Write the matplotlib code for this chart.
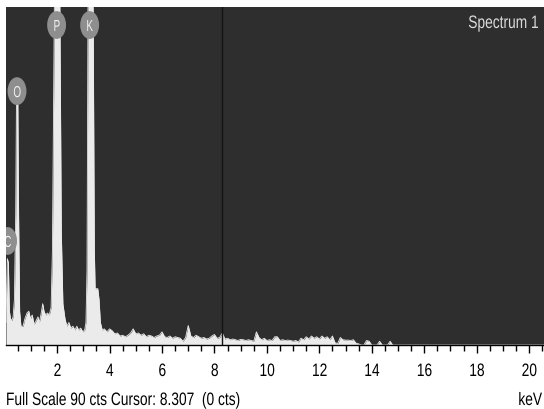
import numpy as np
import matplotlib
matplotlib.use("Agg")
import matplotlib.pyplot as plt
from matplotlib.patches import Ellipse, PathPatch
from matplotlib.ticker import MultipleLocator
from matplotlib.textpath import TextPath
from matplotlib.font_manager import FontProperties
from matplotlib.transforms import Affine2D

# spectrum, low energy part (keV, counts)
e_low = [0.05, 0.10, 0.14, 0.18, 0.22, 0.27, 0.32, 0.37, 0.42, 0.45, 0.50, 0.53, 0.57,
         0.62, 0.70, 0.77, 0.85, 0.92, 0.98, 1.05, 1.12, 1.20, 1.27, 1.32, 1.38, 1.45,
         1.50, 1.56, 1.63, 1.70, 1.77, 1.82, 1.86, 1.90, 2.10, 2.16, 2.22, 2.30, 2.37,
         2.45, 2.52, 2.60, 2.68, 2.75, 2.82, 2.90, 2.98, 3.05, 3.10, 3.14, 3.18, 3.37,
         3.42, 3.45, 3.55, 3.60, 3.65, 3.72]
c_low = [6, 23, 22, 9, 7, 6.5, 7.5, 12, 35, 66, 66, 35, 9,
         5, 5, 7, 8.5, 9, 7, 8, 5.5, 6.5, 7.5, 6, 8, 11,
         9, 8, 8.5, 8, 10, 25, 60, 95, 95, 30, 11, 7, 5,
         6, 4.5, 5, 4, 5, 4, 4.5, 3.5, 4, 6, 20, 95, 95,
         25, 15, 15, 12, 6, 4]

# background above 3.8 keV, 0.1 keV channels
e_hi_start = 3.8
c_hi = [4.3, 3.5, 4.3, 3.8, 3.0, 3.2, 2.4, 2.6, 2.2, 2.6,
        3.2, 4.3, 3.0, 3.2, 2.6, 3.0, 2.2, 2.6, 2.4, 2.0,
        2.4, 2.6, 3.5, 2.2, 2.0, 2.4, 1.8, 2.2, 2.0, 1.8,
        1.0, 2.0, 5.2, 2.4, 2.0, 2.6, 2.2, 1.8, 2.0, 1.6,
        1.8, 2.4, 2.8, 1.8, 2.0, 3.2, 1.6, 1.8, 1.4, 1.6,
        1.4, 1.2, 1.5, 1.4, 1.2, 1.4, 1.2, 1.0, 3.5, 2.0,
        1.4, 1.8, 1.2, 1.4, 1.2, 2.2, 2.2, 1.2, 1.4, 1.2,
        1.3, 1.2, 1.0, 1.2, 0.8, 1.8, 1.4, 2.2, 1.6, 2.4,
        1.8, 2.2, 1.6, 2.4, 1.8, 2.2, 1.4, 2.4, 0.6, 0.4,
        2.0, 1.4, 1.3, 1.3, 1.2, 1.4, 0.5, 0.3, 0, 0,
        1.2, 1.0, 0, 0, 0, 1.0, 0, 0, 0, 1.0,
        0, 0, 0]

# element markers: label, keV, counts
labels = ['C', 'O', 'P', 'K']
lab_e = [0.11, 0.47, 1.98, 3.24]
lab_c = [27.7, 67.6, 85.2, 85.2]

tick_vals = [2, 4, 6, 8, 10, 12, 14, 16, 18, 20]
cursor = 8.307
full_scale = 90

e_hi = [round(e_hi_start + 0.1 * i, 2) for i in range(len(c_hi))]
energy = np.array(e_low + e_hi + [20.6])
counts = np.array(c_low + c_hi + [0])

W, H = 544, 410
fig = plt.figure(figsize=(W / 100, H / 100), dpi=100)
ax = fig.add_axes([6 / W, 64 / H, 538 / W, 338 / H])
ax.set_facecolor('#2e2e2e')
ax.fill_between(energy, 0, counts, color='#ebebeb', lw=0)
ax.plot(energy, counts, color='#ebebeb', lw=0.6)

ax.axvline(cursor, color='#141414', lw=1)

ax.set_xlim(0.05, 20.57)
ax.set_ylim(0, full_scale)

ax.xaxis.set_major_locator(MultipleLocator(2))
ax.xaxis.set_minor_locator(MultipleLocator(0.5))
ax.tick_params(axis='x', which='major', length=6, width=1, direction='out', labelbottom=False)
ax.tick_params(axis='x', which='minor', length=4, width=1, direction='out')
ax.set_yticks([])
for s in ['top', 'right', 'left']:
    ax.spines[s].set_visible(False)
ax.spines['bottom'].set_linewidth(1)

# narrow text like the instrument font: squeezed glyph paths in pixel coords
fp = FontProperties(family='Liberation Sans')
def narrow_text(s, x, y, ha='left', size=18, sx=0.765, color='black', clip=None):
    tp = TextPath((0, 0), s, size=size, prop=fp)
    ext = tp.get_extents()
    w = ext.x1 * sx
    if ha == 'center':
        x = x - w / 2
    elif ha == 'right':
        x = x - w
    tr = Affine2D().scale(sx, 1).translate(x, y)
    p = PathPatch(tp, transform=tr, fc=color, ec='none', lw=0, zorder=6)
    fig.add_artist(p)
    if clip is not None:
        p.set_clip_path(clip)
    return p

# element labels as grey ovals
for lab, x, y in zip(labels, lab_e, lab_c):
    ax.add_patch(Ellipse((x, y), 0.72, 7.4, fc='#8e8e8e', ec='none', zorder=5))
    px, py = ax.transData.transform((x, y))
    narrow_text(lab, px, py - 6, ha='center', size=16, sx=0.62, color='#f2f2f2', clip=ax.patch)

for v in tick_vals:
    px = ax.transData.transform((v, 0))[0]
    narrow_text(str(v), px, H - 377, ha='center')

narrow_text('Full Scale 90 cts Cursor: 8.307  (0 cts)', 6, H - 406)
narrow_text('keV', 542, H - 406, ha='right')
narrow_text('Spectrum 1', 538, H - 29, ha='right', color='#dcdcdc')

fig.savefig('out.png', dpi=100)
